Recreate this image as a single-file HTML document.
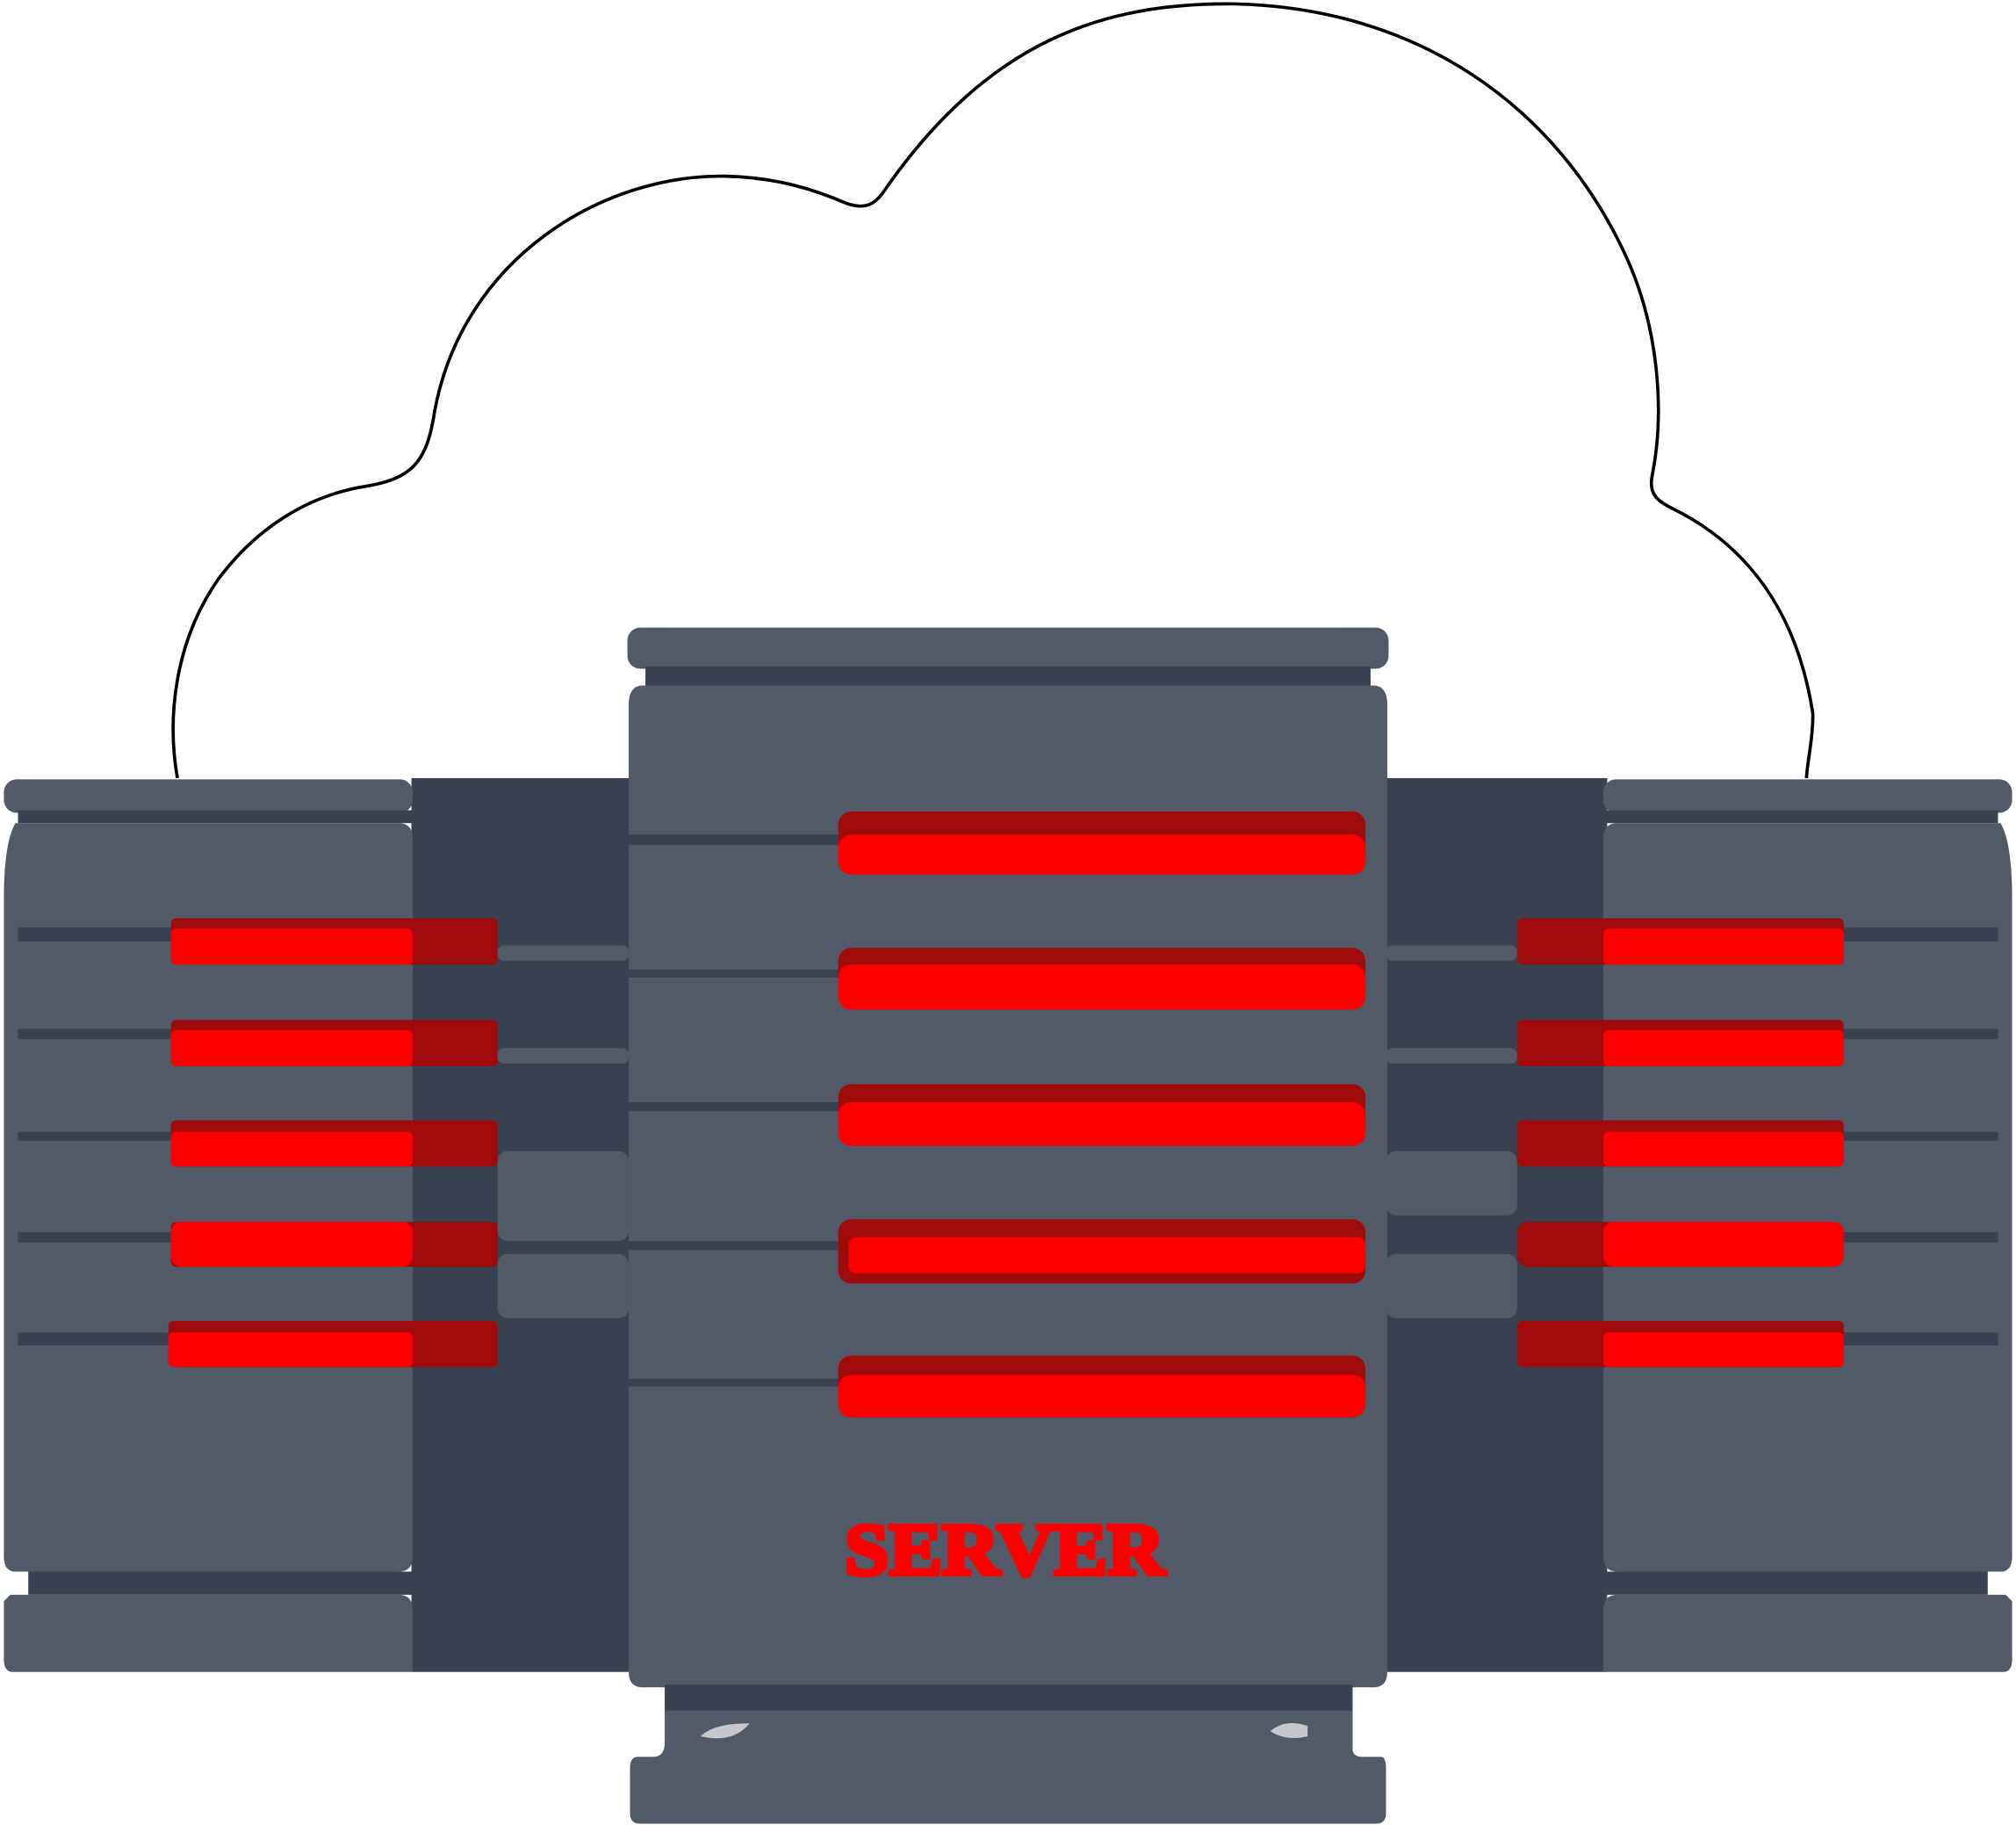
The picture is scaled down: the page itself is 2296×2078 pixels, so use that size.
<!DOCTYPE html>
<html><head><style>html,body{margin:0;padding:0;background:#fff}svg{display:block}</style></head>
<body>
<svg width="2296" height="2078" viewBox="0 0 1568 1419" preserveAspectRatio="none" xmlns="http://www.w3.org/2000/svg">
<path d="M138,605 C130,560 135,500 170,450 C200,410 240,385 285,378 C320,372 332,360 338,320 C360,200 470,135 565,137 C605,138 635,148 658,158 C672,163 680,160 688,148 C770,30 860,2 960,3 C1100,6 1210,80 1265,200 C1290,255 1295,320 1285,370 C1282,385 1290,390 1302,396 C1370,430 1400,490 1410,555 C1410,575 1406,590 1405,605" fill="none" stroke="#000" stroke-width="2.5"/>
<rect x="320" y="605" width="930" height="695" fill="#3a4150"/>
<!-- left server -->
<g>
<rect x="3" y="606" width="318" height="26" rx="10" fill="#525a68"/>
<rect x="14" y="630" width="307" height="10" fill="#3a4150"/>
<path d="M12,640 H310 Q321,640 321,652 V1210 Q321,1222 310,1222 H12 Q3,1222 3,1210 V700 Q3,655 12,640Z" fill="#525a68"/>
<g fill="#3a4150">
<rect x="14" y="721" width="307" height="11"/>
<rect x="14" y="800" width="307" height="8"/>
<rect x="14" y="880" width="307" height="7"/>
<rect x="14" y="958" width="307" height="8"/>
<rect x="14" y="1036" width="307" height="10"/>
<rect x="22" y="1222" width="299" height="18"/>
</g>
<path d="M8,1240 H310 Q321,1240 321,1252 V1300 H10 Q3,1300 3,1290 V1245Z" fill="#525a68"/>
</g>
<!-- right server -->
<g>
<rect x="1247" y="606" width="318" height="26" rx="10" fill="#525a68"/>
<rect x="1247" y="630" width="307" height="10" fill="#3a4150"/>
<path d="M1258,640 H1556 Q1565,655 1565,700 V1210 Q1565,1222 1556,1222 H1258 Q1247,1222 1247,1210 V652 Q1247,640 1258,640Z" fill="#525a68"/>
<g fill="#3a4150">
<rect x="1247" y="721" width="307" height="11"/>
<rect x="1247" y="800" width="307" height="8"/>
<rect x="1247" y="880" width="307" height="7"/>
<rect x="1247" y="958" width="307" height="8"/>
<rect x="1247" y="1036" width="307" height="10"/>
<rect x="1247" y="1222" width="299" height="18"/>
</g>
<path d="M1258,1240 H1560 L1565,1245 V1290 Q1565,1300 1558,1300 H1247 V1252 Q1247,1240 1258,1240Z" fill="#525a68"/>
</g>
<g fill="#525a68">
<rect x="387" y="735" width="102" height="12" rx="5"/>
<rect x="387" y="815" width="102" height="12" rx="5"/>
<rect x="387" y="895" width="102" height="70" rx="8"/>
<rect x="387" y="975" width="102" height="50" rx="8"/>
<rect x="1078" y="735" width="102" height="12" rx="5"/>
<rect x="1078" y="815" width="102" height="12" rx="5"/>
<rect x="1078" y="895" width="102" height="50" rx="8"/>
<rect x="1078" y="975" width="102" height="50" rx="8"/>
</g>
<g>
<rect x="133" y="714" width="254" height="36" rx="4" fill="#a00c0c"/><rect x="133" y="722" width="188" height="28" rx="4" fill="#f00"/>
<rect x="133" y="793" width="254" height="36" rx="4" fill="#a00c0c"/><rect x="133" y="801" width="188" height="28" rx="4" fill="#f00"/>
<rect x="133" y="871" width="254" height="36" rx="4" fill="#a00c0c"/><rect x="133" y="880" width="188" height="27" rx="4" fill="#f00"/>
<rect x="133" y="950" width="254" height="35" rx="4" fill="#a00c0c"/><rect x="133" y="950" width="188" height="35" rx="8" fill="#f00"/>
<rect x="131" y="1027" width="256" height="36" rx="4" fill="#a00c0c"/><rect x="131" y="1036" width="190" height="27" rx="4" fill="#f00"/>
</g>
<g>
<rect x="1180" y="714" width="254" height="36" rx="4" fill="#a00c0c"/><rect x="1247" y="722" width="187" height="28" rx="4" fill="#f00"/>
<rect x="1180" y="793" width="254" height="36" rx="4" fill="#a00c0c"/><rect x="1247" y="801" width="187" height="28" rx="4" fill="#f00"/>
<rect x="1180" y="871" width="254" height="36" rx="4" fill="#a00c0c"/><rect x="1247" y="880" width="187" height="27" rx="4" fill="#f00"/>
<rect x="1180" y="950" width="254" height="35" rx="8" fill="#a00c0c"/><rect x="1247" y="950" width="187" height="35" rx="8" fill="#f00"/>
<rect x="1180" y="1027" width="254" height="36" rx="4" fill="#a00c0c"/><rect x="1247" y="1036" width="187" height="27" rx="4" fill="#f00"/>
</g>
<g>
<rect x="488" y="488" width="592" height="32" rx="10" fill="#525a68"/>
<rect x="502" y="518" width="564" height="16" fill="#3a4150"/>
<path d="M500,533 H1068 Q1079,533 1079,548 V1300 Q1079,1312 1068,1312 H500 Q489,1312 489,1300 V548 Q489,533 500,533Z" fill="#525a68"/>
<g fill="#3a4150">
<rect x="489" y="649" width="164" height="8"/>
<rect x="489" y="754" width="164" height="6"/>
<rect x="489" y="857" width="164" height="7"/>
<rect x="489" y="965" width="164" height="7"/>
<rect x="489" y="1072" width="164" height="6"/>
</g>
<rect x="652" y="631" width="410" height="49" rx="10" fill="#a00c0c"/><rect x="652" y="649" width="410" height="31" rx="10" fill="#f00"/>
<rect x="652" y="737" width="410" height="48" rx="10" fill="#a00c0c"/><rect x="652" y="750" width="410" height="35" rx="10" fill="#f00"/>
<rect x="652" y="843" width="410" height="48" rx="10" fill="#a00c0c"/><rect x="652" y="857" width="410" height="34" rx="10" fill="#f00"/>
<rect x="652" y="948" width="410" height="50" rx="10" fill="#a00c0c"/><rect x="660" y="962" width="402" height="28" rx="6" fill="#f00"/>
<rect x="652" y="1054" width="410" height="48" rx="10" fill="#a00c0c"/><rect x="652" y="1069" width="410" height="33" rx="10" fill="#f00"/>
<text x="657" y="1224" font-family="Liberation Serif, serif" font-weight="bold" font-size="57" fill="#f00" stroke="#f00" stroke-width="3.5" textLength="249" lengthAdjust="spacingAndGlyphs">SERVER</text>
<rect x="517" y="1310" width="535" height="22" fill="#3a4150"/>
<path d="M517,1330 H1052 V1360 Q1052,1366 1060,1366 H1074 Q1078,1366 1078,1375 V1410 Q1078,1418 1070,1418 H498 Q490,1418 490,1410 V1375 Q490,1366 496,1366 H508 Q517,1366 517,1355Z" fill="#525a68"/>
<path d="M545,1350 Q555,1340 583,1340 Q570,1356 545,1350Z" fill="#c7c8cc"/>
<path d="M988,1346 Q1000,1336 1017,1342 V1350 Q1000,1354 988,1346Z" fill="#c7c8cc"/>
</g>
</svg>
</body></html>
